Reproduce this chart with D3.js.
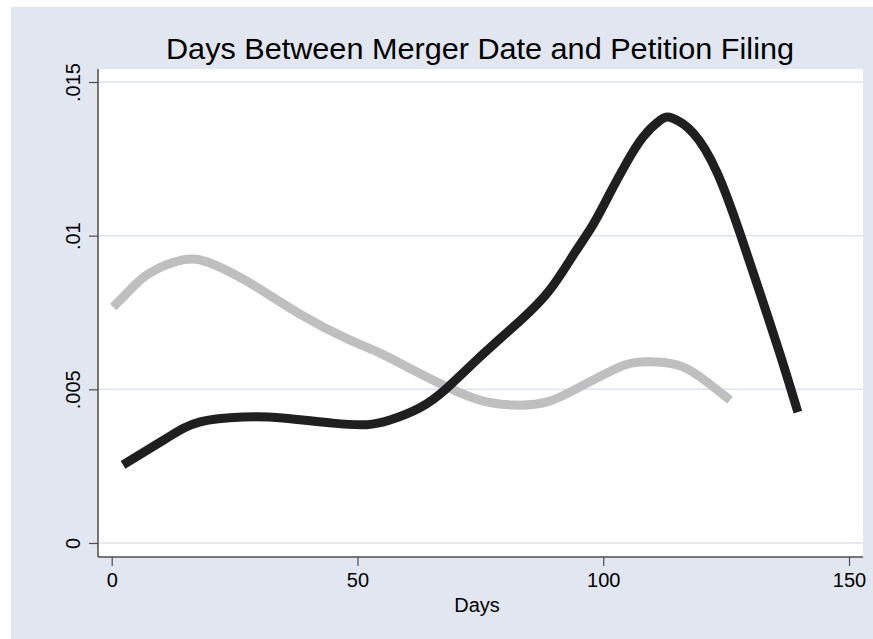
<!DOCTYPE html>
<html>
<head>
<meta charset="utf-8">
<script src="https://cdn.jsdelivr.net/npm/d3@7"></script>
<style>
  body { margin: 0; background: #fff; }
  text { font-family: "Liberation Sans", Arial, sans-serif; fill: #000; }
</style>
</head>
<body>
<svg></svg>
<script>
// data (kernel density style curves)
var blackDays = [2.3, 11.3, 18, 26.7, 34.8, 45, 51.9, 56.6, 62.7, 68.2, 74.9, 81.7, 88.6, 93.9, 97.9, 101.4, 104.7, 108.1, 111.6, 114, 118.3, 123.2, 127.8, 131.9, 135.9, 139.6];
var blackDens = [0.00254, 0.00342, 0.00394, 0.0041, 0.00407, 0.0039, 0.00385, 0.004, 0.0044, 0.00504, 0.00605, 0.00703, 0.00813, 0.00937, 0.01035, 0.01139, 0.01236, 0.01321, 0.01376, 0.01383, 0.01334, 0.01204, 0.01009, 0.00813, 0.00618, 0.00426];
var grayDays = [0.3, 3.7, 7.8, 14.5, 20, 28.1, 38.3, 48.5, 54.6, 61.3, 68.2, 74.9, 81.7, 88.6, 95.3, 102, 106.1, 110.9, 116.2, 121.1, 125.8];
var grayDens = [0.00768, 0.00823, 0.00879, 0.00921, 0.00911, 0.00846, 0.00745, 0.0066, 0.00618, 0.00563, 0.00508, 0.00465, 0.00449, 0.00459, 0.00508, 0.00563, 0.00586, 0.00589, 0.00573, 0.00524, 0.00465];
var xTicks = [0, 50, 100, 150];
var yTicks = [0, 0.005, 0.01, 0.015];
var yTickLabels = ["0", ".005", ".01", ".015"];
var title = "Days Between Merger Date and Petition Filing";
var xTitle = "Days";

var screen = { width: 873, height: 639 };
var plot = { left: 98, right: 863, top: 69, bottom: 557 };

var svg = d3.select("svg")
  .attr("width", screen.width)
  .attr("height", screen.height);

// graph region
svg.append("rect")
  .attr("x", 11).attr("y", 7)
  .attr("width", screen.width - 11).attr("height", screen.height - 7)
  .attr("fill", "#e1e6f0");

// plot region
svg.append("rect")
  .attr("x", plot.left).attr("y", plot.top)
  .attr("width", plot.right - plot.left).attr("height", plot.bottom - plot.top)
  .attr("fill", "#fff");

var xScale = d3.scaleLinear().domain([0, 150]).range([111.7, 849]);
var yScale = d3.scaleLinear().domain([0, 0.015]).range([543, 82]);

// gridlines
svg.append("g").selectAll("line")
  .data(yTicks)
  .enter().append("line")
  .attr("x1", plot.left).attr("x2", plot.right)
  .attr("y1", function(d){ return yScale(d); })
  .attr("y2", function(d){ return yScale(d); })
  .attr("stroke", "#dde3ee")
  .attr("stroke-width", 1.5);

// axes
var xAxis = d3.axisBottom(xScale).tickValues(xTicks).tickSize(9).tickPadding(7).tickFormat(d3.format("d"));
var gx = svg.append("g")
  .attr("transform", "translate(0," + plot.bottom + ")")
  .call(xAxis);
gx.select(".domain").remove();
gx.append("line")
  .attr("x1", plot.left).attr("x2", plot.right)
  .attr("stroke", "#4d4d4d").attr("stroke-width", 1.5);
gx.selectAll(".tick line").attr("stroke", "#4d4d4d").attr("stroke-width", 1.2);
gx.selectAll(".tick text")
  .attr("font-size", 20)
  .attr("font-family", "Liberation Sans, Arial, sans-serif")
  .attr("fill", "#000");

var yAxis = d3.axisLeft(yScale).tickValues(yTicks).tickSize(9)
  .tickFormat(function(d, i){ return yTickLabels[i]; });
var gy = svg.append("g")
  .attr("transform", "translate(" + plot.left + ",0)")
  .call(yAxis);
gy.select(".domain").remove();
gy.append("line")
  .attr("y1", plot.top).attr("y2", plot.bottom)
  .attr("stroke", "#4d4d4d").attr("stroke-width", 1.5);
gy.selectAll(".tick line").attr("stroke", "#4d4d4d").attr("stroke-width", 1.2);
gy.selectAll(".tick text")
  .attr("x", null).attr("dy", null)
  .attr("transform", "translate(-18,0) rotate(-90)")
  .attr("text-anchor", "middle")
  .attr("font-size", 20)
  .attr("font-family", "Liberation Sans, Arial, sans-serif")
  .attr("fill", "#000");

// curves
var line = d3.line()
  .x(function(d){ return xScale(d[0]); })
  .y(function(d){ return yScale(d[1]); })
  .curve(d3.curveNatural);

svg.append("path")
  .datum(d3.zip(grayDays, grayDens))
  .attr("d", line)
  .attr("fill", "none")
  .attr("stroke", "#bfbfbf")
  .attr("stroke-width", 9);

svg.append("path")
  .datum(d3.zip(blackDays, blackDens))
  .attr("d", line)
  .attr("fill", "none")
  .attr("stroke", "#1f1f1f")
  .attr("stroke-width", 9);

// titles
svg.append("text")
  .attr("x", 480).attr("y", 59)
  .attr("text-anchor", "middle")
  .attr("font-size", 29)
  .attr("textLength", 628)
  .attr("lengthAdjust", "spacingAndGlyphs")
  .text(title);

svg.append("text")
  .attr("x", 477).attr("y", 612)
  .attr("text-anchor", "middle")
  .attr("font-size", 20)
  .text(xTitle);
</script>
</body>
</html>
